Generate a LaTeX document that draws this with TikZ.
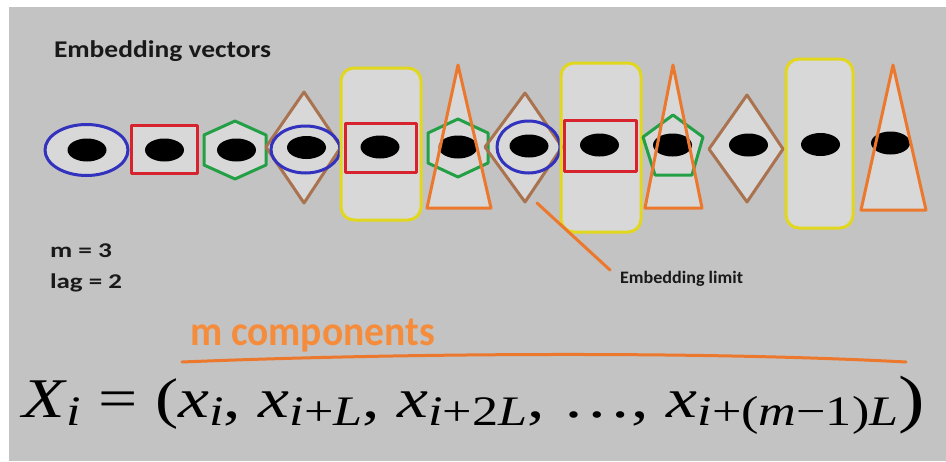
\documentclass[tikz,border=0pt]{standalone}
\usepackage{fontspec}
\usepackage{graphicx}
\newfontfamily\calb{Carlito}
\newfontfamily\tms{Liberation Serif}
\definecolor{bgc}{RGB}{195,195,195}
\definecolor{lg}{RGB}{216,216,216}
\definecolor{cblue}{RGB}{50,50,190}
\definecolor{cred}{RGB}{215,35,45}
\definecolor{cgreen}{RGB}{35,160,70}
\definecolor{cbrown}{RGB}{170,115,80}
\definecolor{cyellow}{RGB}{225,215,30}
\definecolor{corange}{RGB}{235,120,45}
\definecolor{otext}{RGB}{245,140,60}
\definecolor{dtext}{RGB}{25,25,25}
\newcommand\sbs[1]{\raisebox{-8pt}{\fontsize{42}{44}\selectfont #1}}
\newcommand\fitw[2]{\resizebox{#1}{\height}{#2}}
% shape paths
\def\shA{(86.5,150) ellipse [x radius=41.5, y radius=25.5]}
\def\shB{(131,125) rectangle (197,173)}
\def\shC{(235,121) -- (266,135) -- (266,165) -- (235,179) -- (204,165) -- (204,135) -- cycle}
\def\shDd{(304,92) -- (341,147) -- (304,203) -- (266,147) -- cycle}
\def\shDe{(305.5,149.5) ellipse [x radius=34.5, y radius=23.5]}
\def\shEy{[rounded corners=13pt] (341,68) rectangle (421,220)}
\def\shEr{(345,123) rectangle (416,172)}
\def\shFt{(458,65) -- (491,208) -- (427,208) -- cycle}
\def\shFh{(458,119) -- (488,133) -- (488,163) -- (458,177) -- (428,163) -- (428,133) -- cycle}
\def\shGd{(525,93) -- (562,147) -- (525,202) -- (485,147) -- cycle}
\def\shGe{(528.5,147) ellipse [x radius=31.5, y radius=26]}
\def\shHy{[rounded corners=13pt] (561,63) rectangle (641,232)}
\def\shHr{(564,120) rectangle (636,171)}
\def\shIt{(673,65) -- (702,208) -- (645,208) -- cycle}
\def\shIp{(673,115) -- (703,137) -- (692,175) -- (655,175) -- (643,137) -- cycle}
\def\shJ{(747,95) -- (783,149) -- (747,202) -- (709,149) -- cycle}
\def\shK{[rounded corners=13pt] (786,59) rectangle (853,228)}
\def\shL{(893,65) -- (926,210) -- (861,210) -- cycle}
\begin{document}
\begin{tikzpicture}[x=1pt,y=-1pt,
  shp/.style={line width=3pt, line join=round},
  dotf/.style={fill=black},
  lbl/.style={inner sep=0pt, outer sep=0pt, anchor=base west, text=dtext}]
\useasboundingbox (0,0) rectangle (946,461);
\fill[white] (0,0) rectangle (946,461);
\fill[bgc] (9,7) rectangle (946,461);
% fills
\fill[lg] \shA; \fill[lg] \shB; \fill[lg] \shC; \fill[lg] \shDd; \fill[lg] \shDe;
\fill[lg] \shEy; \fill[lg] \shFt; \fill[lg] \shFh; \fill[lg] \shGd; \fill[lg] \shGe;
\fill[lg] \shHy; \fill[lg] \shIt; \fill[lg] \shIp; \fill[lg] \shJ; \fill[lg] \shK; \fill[lg] \shL;
% dots
\foreach \cx/\cy in {87/150, 164.5/150, 236.5/150, 306.5/147.5, 380/147, 458/147,
  529/146, 599.5/145, 672.5/145, 748.5/145, 820.5/144.5, 890.5/143}
  \fill[dotf] (\cx,\cy) ellipse [x radius=19.5, y radius=11.5];
% outlines
\draw[shp, cblue] \shA;
\draw[shp, cred] \shB;
\draw[shp, cgreen] \shC;
\draw[shp, cbrown] \shDd;
\draw[shp, cblue] \shDe;
\draw[shp, cyellow] \shEy;
\draw[shp, cred] \shEr;
\draw[shp, cgreen] \shFh;
\draw[shp, corange] \shFt;
\draw[shp, cbrown] \shGd;
\draw[shp, cblue] \shGe;
\draw[shp, cyellow] \shHy;
\draw[shp, cred] \shHr;
\draw[shp, cgreen] \shIp;
\draw[shp, corange] \shIt;
\draw[shp, cbrown] \shJ;
\draw[shp, cyellow] \shK;
\draw[shp, corange] \shL;
% texts
\node[lbl] (title) at (54,57) {\fitw{217pt}{\calb\bfseries\fontsize{24}{28}\selectfont Embedding vectors}};
\node[lbl] (mval) at (50,257) {\fitw{62pt}{\calb\bfseries\fontsize{21}{24}\selectfont m = 3}};
\node[lbl] (lagval) at (50,288) {\fitw{72pt}{\calb\bfseries\fontsize{21}{24}\selectfont lag = 2}};
\node[lbl] (limit) at (620,283) {\fitw{123pt}{\calb\bfseries\fontsize{17.5}{20}\selectfont Embedding limit}};
\coordinate (limtop) at (537,203);
\draw[line width=3pt, corange, line cap=round] (limtop) -- (610,270);
\node[lbl, text=otext] (mcomp) at (190,345) {\fitw{245pt}{\calb\bfseries\fontsize{42}{46}\selectfont m components}};
\coordinate (ulA) at (182,362);
\coordinate (ulB) at (906,362);
\draw[line width=3pt, corange, line cap=round] (ulA) .. controls (400,353) and (700,351) .. (ulB);
\node[lbl, text=black] (formula) at (22,417) {\fitw{903pt}{\tms\fontsize{56}{60}\selectfont
  \textit{X}\sbs{\textit{i}}\hspace{14pt}=\hspace{14pt}(\textit{x}\sbs{\textit{i}}, \textit{x}\sbs{\textit{i}+\textit{L}}, \textit{x}\sbs{\textit{i}+2\textit{L}}, …, \textit{x}\sbs{\textit{i}+(\textit{m}−1)\textit{L}}\raisebox{-3pt}{\fontsize{64}{66}\selectfont )}}};
\end{tikzpicture}
\end{document}
